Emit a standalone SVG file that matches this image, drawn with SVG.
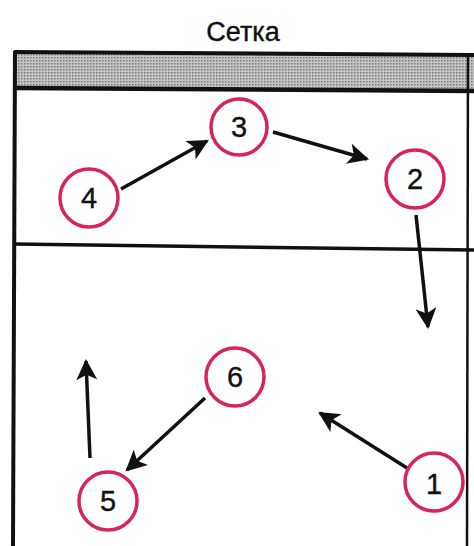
<svg xmlns="http://www.w3.org/2000/svg" width="474" height="546" viewBox="0 0 474 546">
<style>
.node circle{fill:none;stroke:#d8235f;stroke-width:3.5}
.node text{font-family:"Liberation Sans",Arial,sans-serif;font-size:29px;fill:#111;text-anchor:middle;dominant-baseline:central;stroke:#111;stroke-width:0.4}
.edge{stroke:#111;stroke-width:3.5;fill:none;marker-end:url(#ah)}
.frame{stroke:#111;fill:none}
</style>
<defs>
<marker id="ah" viewBox="0 0 10 10" refX="9" refY="5" markerWidth="7" markerHeight="6" orient="auto" markerUnits="strokeWidth">
<path d="M0,0 L10,5 L0,10 L2.5,5 Z" fill="#111"/>
</marker>
<pattern id="dots" width="3" height="3" patternUnits="userSpaceOnUse">
<rect width="3" height="3" fill="#c4c4c4"/>
<rect width="1.5" height="1.5" fill="#7a7a7a"/>
</pattern>
</defs>
<rect width="474" height="546" fill="#fff"/>
<text x="243" y="41" font-family="Liberation Sans,Arial,sans-serif" font-size="27" text-anchor="middle" fill="#111" stroke="#111" stroke-width="0.4">Сетка</text>
<g id="frame">
<rect x="16" y="53" width="458" height="36" fill="url(#dots)"/>
<line class="frame" x1="14" y1="52" x2="474" y2="55" stroke-width="4"/>
<line class="frame" x1="14" y1="88" x2="474" y2="91" stroke-width="4.5"/>
<line class="frame" x1="14" y1="244" x2="474" y2="250" stroke-width="3.5"/>
<line class="frame" x1="15" y1="51" x2="13" y2="546" stroke-width="4"/>
<line class="frame" x1="468" y1="53" x2="467" y2="546" stroke-width="2.5"/>
</g>
<g id="connectors">
<line class="edge" x1="121" y1="189" x2="207" y2="141"/>
<line class="edge" x1="273" y1="132" x2="367" y2="159"/>
<line class="edge" x1="416" y1="215" x2="428" y2="327"/>
<line class="edge" x1="407" y1="468" x2="320" y2="413"/>
<line class="edge" x1="205" y1="398" x2="127" y2="470"/>
<line class="edge" x1="90" y1="458" x2="86" y2="361"/>
</g>
<g id="n3" class="node"><circle cx="239" cy="127" r="28"/><text x="239" y="127">3</text></g>
<g id="n4" class="node"><circle cx="89" cy="198" r="29"/><text x="89" y="198">4</text></g>
<g id="n2" class="node"><circle cx="415" cy="179" r="29"/><text x="415" y="179">2</text></g>
<g id="n6" class="node"><circle cx="235" cy="377" r="29"/><text x="235" y="377">6</text></g>
<g id="n5" class="node"><circle cx="108" cy="501" r="29"/><text x="108" y="501">5</text></g>
<g id="n1" class="node"><circle cx="434" cy="482" r="29"/><text x="434" y="484">1</text></g>
</svg>
